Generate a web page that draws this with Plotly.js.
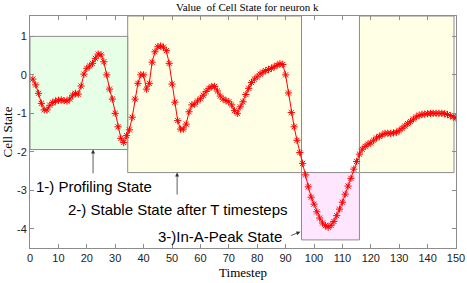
<!DOCTYPE html>
<html>
<head>
<meta charset="utf-8">
<script src="https://cdn.plot.ly/plotly-3.0.1.min.js"></script>
<style>html,body{margin:0;padding:0;background:#fff;}#chart{width:467px;height:283px;}</style>
</head>
<body>
<div id="chart"></div>
<script>
var timesteps = [1,2,3,4,5,6,7,8,9,10,11,12,13,14,15,16,17,18,19,20,21,22,23,24,25,26,27,28,29,30,
31,32,33,34,35,36,37,38,39,40,41,42,43,44,45,46,47,48,49,50,51,52,53,54,55,56,57,58,59,60,
61,62,63,64,65,66,67,68,69,70,71,72,73,74,75,76,77,78,79,80,81,82,83,84,85,86,87,88,89,90,
91,92,93,94,95,96,97,98,99,100,101,102,103,104,105,106,107,108,109,110,111,112,113,114,115,116,117,118,119,120,
121,122,123,124,125,126,127,128,129,130,131,132,133,134,135,136,137,138,139,140,141,142,143,144,145,146,147,148,149,150];

var cellState = [-0.11,-0.26,-0.48,-0.74,-0.91,-0.91,-0.79,-0.72,-0.68,-0.66,
-0.65,-0.67,-0.68,-0.63,-0.53,-0.48,-0.50,-0.29,0.02,0.17,
0.23,0.30,0.43,0.54,0.52,0.34,0.00,-0.37,-0.63,-1.00,
-1.35,-1.65,-1.76,-1.58,-1.43,-1.10,-0.63,-0.22,0.00,0.00,
-0.37,-0.22,0.33,0.60,0.73,0.75,0.72,0.63,0.30,-0.24,
-0.71,-1.19,-1.41,-1.41,-1.28,-0.96,-0.78,-0.76,-0.68,-0.62,
-0.53,-0.43,-0.35,-0.30,-0.30,-0.42,-0.55,-0.63,-0.67,-0.70,
-0.78,-0.93,-1.00,-0.83,-0.70,-0.51,-0.35,-0.20,-0.11,-0.05,
0.02,0.07,0.11,0.14,0.17,0.21,0.25,0.29,0.27,0.00,
-0.47,-0.98,-1.35,-1.70,-2.02,-2.30,-2.60,-2.91,-3.18,-3.36,
-3.56,-3.72,-3.85,-3.92,-3.96,-3.91,-3.81,-3.66,-3.49,-3.31,
-3.10,-2.89,-2.69,-2.45,-2.25,-2.06,-1.93,-1.86,-1.80,-1.77,
-1.70,-1.64,-1.60,-1.56,-1.52,-1.52,-1.52,-1.51,-1.49,-1.45,
-1.39,-1.33,-1.27,-1.21,-1.15,-1.09,-1.05,-1.03,-1.02,-1.01,
-1.00,-1.00,-1.00,-1.00,-1.00,-1.01,-1.03,-1.06,-1.09,-1.12];

var xTicks = [0,10,20,30,40,50,60,70,80,90,100,110,120,130,140,150];
var yTicks = [-4,-3,-2,-1,0,1];

// Highlighted phases: [x0, x1, y0, y1]
var profilingBox = [0, 34.4, -1.94, 1.0];
var stableBoxA = [34.4, 95.6, -2.54, 1.53];
var peakBox = [95.6, 116, -4.29, -2.54];
var stableBoxB = [116, 149.3, -2.54, 1.53];

var labels = ["1-) Profiling State", "2-) Stable State after T timesteps", "3-)In-A-Peak State"];

function rect(b, fill) {
  return {type:'rect', xref:'x', yref:'y', x0:b[0], x1:b[1], y0:b[2], y1:b[3],
    fillcolor:fill, line:{color:'#8c8c8c', width:1}, layer:'below'};
}

var trace = {
  x: timesteps, y: cellState, type:'scatter', mode:'lines+markers',
  line:{color:'#ff0000', width:1},
  marker:{symbol:'asterisk-open', size:6, color:'#ff0000', line:{color:'#ff0000', width:1}},
  hoverinfo:'skip'
};

var annFont = {family:'Liberation Sans, Arial, sans-serif', size:15, color:'#000'};
var arrowStyle = {showarrow:true, arrowhead:2, arrowsize:1, arrowwidth:0.8, arrowcolor:'#333', text:'', axref:'x', ayref:'y'};

var layout = {
  width:467, height:283,
  margin:{l:30, r:11, t:16, b:35},
  paper_bgcolor:'#fff', plot_bgcolor:'#fff',
  showlegend:false,
  font:{family:'Liberation Sans, Arial, sans-serif', size:11, color:'#222'},
  title:{text:'Value \u00a0of Cell State for neuron k', font:{family:'Liberation Serif, Times New Roman, serif', size:11, color:'#000'},
    x:0.51, xref:'paper', xanchor:'center', y:0.975, yref:'container', yanchor:'middle'},
  xaxis:{range:[0,150], tickvals:xTicks, ticktext:xTicks.map(String), ticks:'inside', ticklen:4, tickcolor:'#8c8c8c',
    showline:true, linecolor:'#8c8c8c', linewidth:1, mirror:'ticks', showgrid:false, zeroline:false,
    title:{text:'Timestep', font:{family:'Liberation Serif, Times New Roman, serif', size:13, color:'#000'}, standoff:4}},
  yaxis:{range:[-4.5,1.53], tickvals:yTicks, ticktext:yTicks.map(String), ticks:'inside', ticklen:4, tickcolor:'#8c8c8c',
    showline:true, linecolor:'#8c8c8c', linewidth:1, mirror:'ticks', showgrid:false, zeroline:false,
    title:{text:'Cell State', font:{family:'Liberation Serif, Times New Roman, serif', size:13, color:'#000'}, standoff:4}},
  shapes:[
    rect(stableBoxA, 'rgb(255,255,230)'),
    rect(stableBoxB, 'rgb(255,255,230)'),
    rect(profilingBox, 'rgb(230,255,230)'),
    rect(peakBox, 'rgb(255,230,255)')
  ],
  annotations:[
    {text:labels[0], x:22.6, y:-2.89, xref:'x', yref:'y', xanchor:'center', yanchor:'middle', showarrow:false, font:annFont},
    {text:labels[1], x:52.2, y:-3.49, xref:'x', yref:'y', xanchor:'center', yanchor:'middle', showarrow:false, font:annFont},
    {text:labels[2], x:89.6, y:-4.19, xref:'x', yref:'y', xanchor:'right', yanchor:'middle', showarrow:false, font:annFont},
    Object.assign({x:22.2, y:-1.94, ax:22.2, ay:-2.6}, arrowStyle),
    Object.assign({x:51.8, y:-2.54, ax:51.8, ay:-3.15}, arrowStyle),
    Object.assign({x:95.2, y:-4.08, ax:91.4, ay:-4.19}, arrowStyle)
  ]
};

Plotly.newPlot('chart', [trace], layout, {staticPlot:true, displayModeBar:false});
</script>
</body>
</html>
